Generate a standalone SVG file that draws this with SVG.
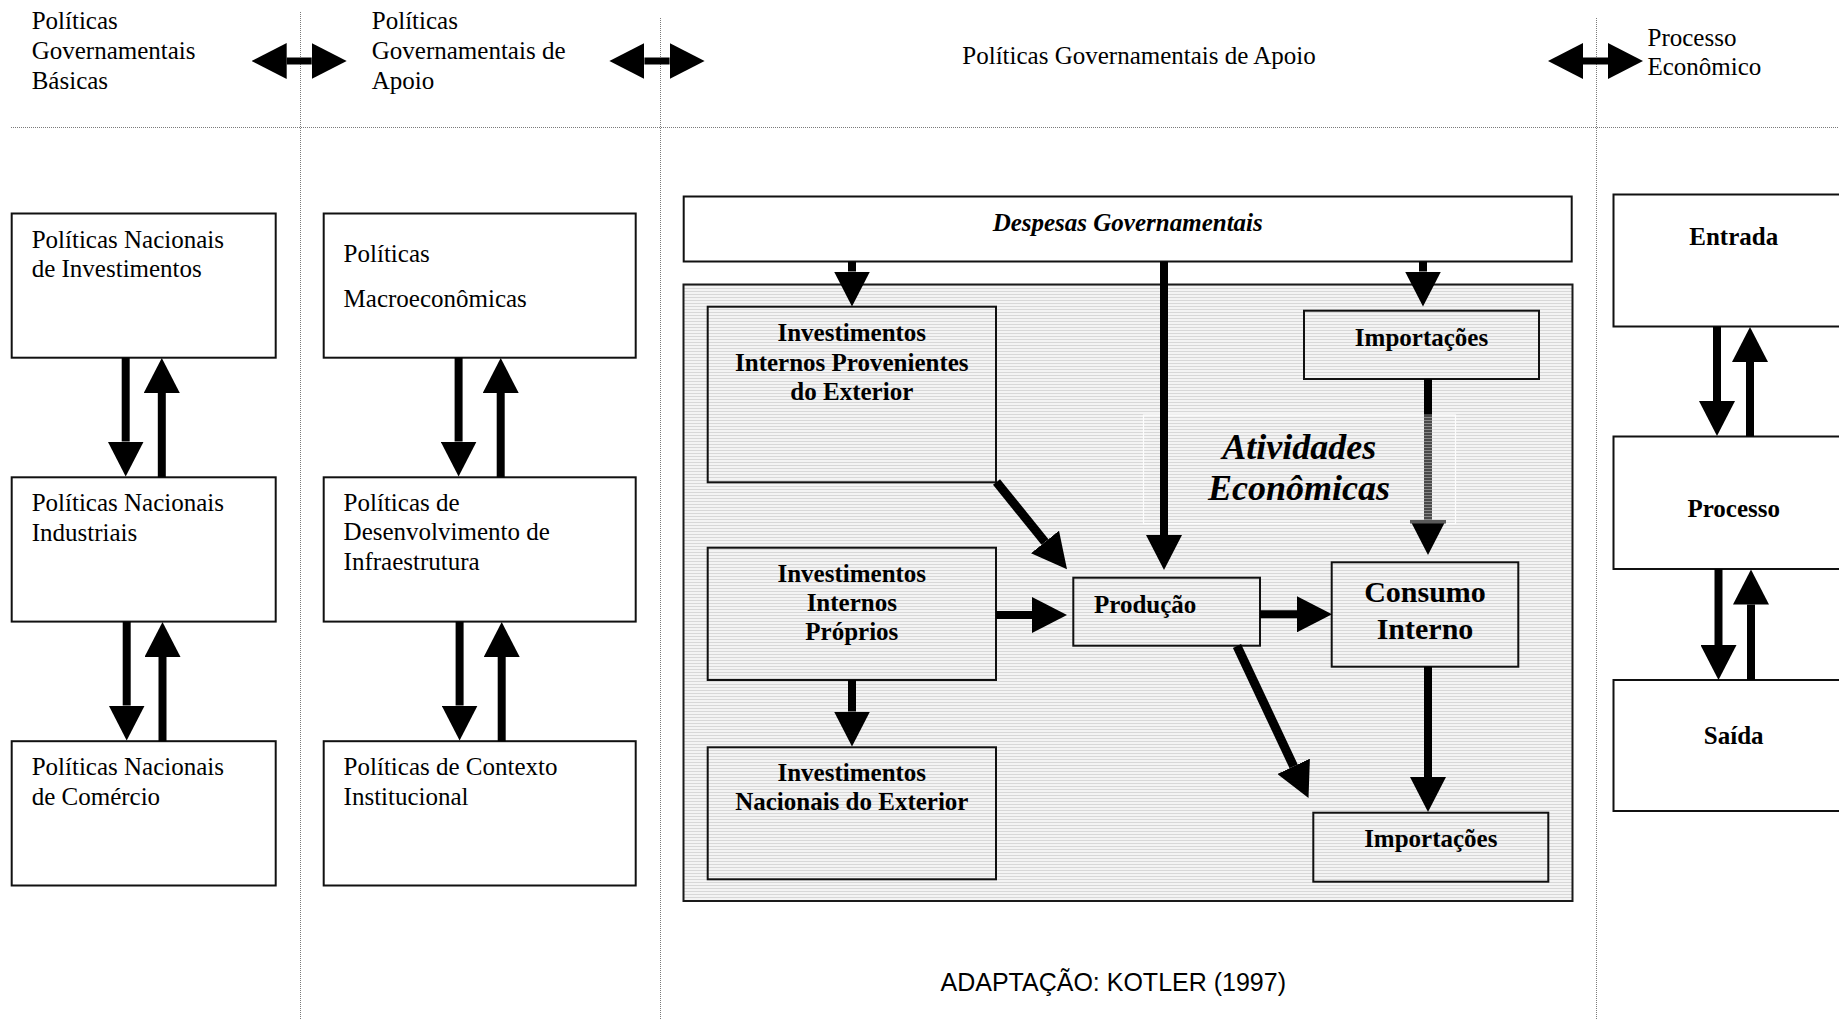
<svg xmlns="http://www.w3.org/2000/svg" width="1839" height="1019" viewBox="0 0 1839 1019">
  <style>
    .serif { font-family: "Liberation Serif", "Times New Roman", serif; font-size: 25px; fill: #000; }
    .bold { font-weight: bold; }
    .it { font-style: italic; }
    .mid { text-anchor: middle; }
    .box { fill: #fff; stroke: #111; stroke-width: 2; }
    .inner { fill: none; stroke: #111; stroke-width: 2; }
    .guide { stroke: #7a7a7a; stroke-width: 1; stroke-dasharray: 1 1; fill: none; }
    .shaft { stroke: #000; stroke-width: 8; fill: none; }
    .thin { stroke-width: 7; }
    .diag { stroke-width: 9; }
    .src { font-family: "Liberation Sans", Arial, sans-serif; font-size: 25px; fill: #000; }
  </style>
  <defs>
    <marker id="head" viewBox="0 0 35 36" refX="0" refY="18" markerUnits="userSpaceOnUse" markerWidth="35" markerHeight="36" orient="auto-start-reverse">
      <path d="M0,0 L35,18 L0,36 Z" fill="#000"/>
    </marker>
    <pattern id="hatch" width="4" height="3" patternUnits="userSpaceOnUse">
      <rect width="4" height="3" fill="#f4f4f4"/>
      <rect width="4" height="1" fill="#d8d8d8"/>
    </pattern>
    <pattern id="veil" width="4" height="3" patternUnits="userSpaceOnUse">
      <rect width="4" height="3" fill="#4a4a4a"/>
      <rect width="4" height="1" fill="#8a8a8a"/>
    </pattern>
  </defs>

  <rect width="1839" height="1019" fill="#fff"/>

  <!-- column guides -->
  <g id="guides">
    <line class="guide" x1="11" y1="127.5" x2="1839" y2="127.5"/>
    <line class="guide" x1="300.5" y1="12" x2="300.5" y2="1019"/>
    <line class="guide" x1="660.5" y1="18" x2="660.5" y2="1019"/>
    <line class="guide" x1="1596.5" y1="18" x2="1596.5" y2="1019"/>
  </g>

  <!-- header titles -->
  <g id="header">
    <text class="serif" x="31.7" y="29.3">Políticas</text>
    <text class="serif" x="31.7" y="58.8">Governamentais</text>
    <text class="serif" x="31.7" y="89">Básicas</text>
    <text class="serif" x="371.8" y="29.3">Políticas</text>
    <text class="serif" x="371.8" y="58.8">Governamentais de</text>
    <text class="serif" x="371.8" y="89">Apoio</text>
    <text class="serif mid" x="1139" y="63.5">Políticas Governamentais de Apoio</text>
    <text class="serif" x="1647.5" y="45.5">Processo</text>
    <text class="serif" x="1647.5" y="75">Econômico</text>
  </g>

  <!-- column 1: basic policies -->
  <g id="n-investimentos">
    <rect class="box" x="11.7" y="213.5" width="264" height="144.2"/>
    <text class="serif" x="31.7" y="247.5">Políticas Nacionais</text>
    <text class="serif" x="31.7" y="277">de Investimentos</text>
  </g>
  <g id="n-industriais">
    <rect class="box" x="11.7" y="477.3" width="264" height="144.3"/>
    <text class="serif" x="31.7" y="511.3">Políticas Nacionais</text>
    <text class="serif" x="31.7" y="541">Industriais</text>
  </g>
  <g id="n-comercio">
    <rect class="box" x="11.7" y="741.2" width="264" height="144.3"/>
    <text class="serif" x="31.7" y="775.2">Políticas Nacionais</text>
    <text class="serif" x="31.7" y="805">de Comércio</text>
  </g>

  <!-- column 2: support policies -->
  <g id="n-macro">
    <rect class="box" x="323.7" y="213.5" width="312" height="144.2"/>
    <text class="serif" x="343.6" y="262">Políticas</text>
    <text class="serif" x="343.6" y="306.5">Macroeconômicas</text>
  </g>
  <g id="n-infra">
    <rect class="box" x="323.7" y="477.3" width="312" height="144.3"/>
    <text class="serif" x="343.6" y="511">Políticas de</text>
    <text class="serif" x="343.6" y="540.3">Desenvolvimento de</text>
    <text class="serif" x="343.6" y="569.8">Infraestrutura</text>
  </g>
  <g id="n-institucional">
    <rect class="box" x="323.7" y="741.2" width="312" height="144.3"/>
    <text class="serif" x="343.6" y="775.2">Políticas de Contexto</text>
    <text class="serif" x="343.6" y="805">Institucional</text>
  </g>

  <!-- column 3: government spending and economic activities -->
  <g id="n-despesas">
    <rect class="box" x="683.7" y="196.5" width="888" height="65"/>
    <text class="serif bold it mid" x="1127.7" y="231">Despesas Governamentais</text>
  </g>
  <g id="n-atividades">
    <rect x="683.5" y="284.5" width="889" height="616.5" fill="url(#hatch)" stroke="#1a1a1a" stroke-width="2"/>
    <rect x="1143.5" y="415" width="312" height="108.5" fill="none" stroke="#fdfdfd" stroke-width="1.2"/>
  </g>
  <g id="n-provenientes">
    <rect class="inner" x="707.7" y="306.7" width="288.3" height="175.6"/>
    <text class="serif bold mid" x="851.8" y="341.3">Investimentos</text>
    <text class="serif bold mid" x="851.8" y="370.6">Internos Provenientes</text>
    <text class="serif bold mid" x="851.8" y="400">do Exterior</text>
  </g>
  <g id="n-proprios">
    <rect class="inner" x="707.7" y="547.7" width="288.3" height="132.3"/>
    <text class="serif bold mid" x="851.8" y="581.7">Investimentos</text>
    <text class="serif bold mid" x="851.8" y="611">Internos</text>
    <text class="serif bold mid" x="851.8" y="640.3">Próprios</text>
  </g>
  <g id="n-nacionais">
    <rect class="inner" x="707.7" y="747.3" width="288.3" height="132"/>
    <text class="serif bold mid" x="851.8" y="781">Investimentos</text>
    <text class="serif bold mid" x="851.8" y="810.4">Nacionais do Exterior</text>
  </g>
  <g id="n-producao">
    <rect class="inner" x="1073.3" y="577.7" width="186.7" height="68"/>
    <text class="serif bold" x="1094" y="613.4">Produção</text>
  </g>
  <g id="n-importacoes-1">
    <rect class="inner" x="1304" y="310.7" width="235" height="68.3"/>
    <text class="serif bold mid" x="1421.5" y="346">Importações</text>
  </g>
  <g id="n-consumo">
    <rect class="inner" x="1331.7" y="562.3" width="186.6" height="104.4"/>
    <text class="serif bold mid" x="1425" y="602.2" style="font-size:30px">Consumo</text>
    <text class="serif bold mid" x="1425" y="638.6" style="font-size:30px">Interno</text>
  </g>
  <g id="n-importacoes-2">
    <rect class="inner" x="1313.3" y="812.7" width="235" height="69"/>
    <text class="serif bold mid" x="1430.8" y="847">Importações</text>
  </g>

  <!-- column 4: economic process -->
  <g id="n-entrada">
    <rect class="box" x="1613.5" y="194.5" width="240" height="132"/>
    <text class="serif bold mid" x="1733.7" y="245">Entrada</text>
  </g>
  <g id="n-processo">
    <rect class="box" x="1613.5" y="436.5" width="240" height="132.5"/>
    <text class="serif bold mid" x="1733.7" y="517">Processo</text>
  </g>
  <g id="n-saida">
    <rect class="box" x="1613.5" y="680" width="240" height="131"/>
    <text class="serif bold mid" x="1733.7" y="743.5">Saída</text>
  </g>

  <!-- connectors -->
  <g id="connectors">
    <!-- header double arrows -->
    <line class="shaft thin" x1="286.7" y1="61" x2="311.7" y2="61" marker-start="url(#head)" marker-end="url(#head)"/>
    <line class="shaft thin" x1="644.4" y1="61" x2="669.6" y2="61" marker-start="url(#head)" marker-end="url(#head)"/>
    <line class="shaft thin" x1="1583" y1="61" x2="1608" y2="61" marker-start="url(#head)" marker-end="url(#head)"/>

    <!-- column 1 -->
    <line class="shaft" x1="125.7" y1="357.7" x2="125.7" y2="441.5" marker-end="url(#head)"/>
    <line class="shaft" x1="161.8" y1="477.3" x2="161.8" y2="393" marker-end="url(#head)"/>
    <line class="shaft" x1="126.7" y1="621.6" x2="126.7" y2="705.5" marker-end="url(#head)"/>
    <line class="shaft" x1="162.5" y1="741.2" x2="162.5" y2="657" marker-end="url(#head)"/>

    <!-- column 2 -->
    <line class="shaft" x1="458.6" y1="357.7" x2="458.6" y2="441.5" marker-end="url(#head)"/>
    <line class="shaft" x1="500.7" y1="477.3" x2="500.7" y2="393" marker-end="url(#head)"/>
    <line class="shaft" x1="459.6" y1="621.6" x2="459.6" y2="705.5" marker-end="url(#head)"/>
    <line class="shaft" x1="501.7" y1="741.2" x2="501.7" y2="657" marker-end="url(#head)"/>

    <!-- column 4 -->
    <line class="shaft" x1="1717" y1="326.5" x2="1717" y2="401" marker-end="url(#head)"/>
    <line class="shaft" x1="1750" y1="436.5" x2="1750" y2="362" marker-end="url(#head)"/>
    <line class="shaft" x1="1718.5" y1="569" x2="1718.5" y2="645" marker-end="url(#head)"/>
    <line class="shaft" x1="1751" y1="680" x2="1751" y2="604.5" marker-end="url(#head)"/>

    <!-- government spending flows -->
    <line class="shaft" x1="852" y1="261.5" x2="852" y2="271.5" marker-end="url(#head)"/>
    <line class="shaft" x1="1164" y1="261.5" x2="1164" y2="535" marker-end="url(#head)"/>
    <line class="shaft" x1="1423" y1="261.5" x2="1423" y2="271.5" marker-end="url(#head)"/>

    <!-- economic activities -->
    <line class="shaft diag" x1="996.5" y1="482" x2="1045" y2="542" marker-end="url(#head)"/>
    <line class="shaft" x1="996" y1="615" x2="1032" y2="615" marker-end="url(#head)"/>
    <line class="shaft" x1="852" y1="680" x2="852" y2="711.5" marker-end="url(#head)"/>
    <line class="shaft" x1="1260" y1="614.3" x2="1297" y2="614.3" marker-end="url(#head)"/>
    <line class="shaft diag" x1="1237" y1="646" x2="1293.6" y2="766.3" marker-end="url(#head)"/>
    <line class="shaft" x1="1428" y1="379" x2="1428" y2="520" marker-end="url(#head)"/>
    <line class="shaft" x1="1428" y1="666.7" x2="1428" y2="777" marker-end="url(#head)"/>

    <!-- part of the import arrow seen through the caption frame -->
    <rect x="1424" y="414.5" width="8" height="105.5" fill="url(#veil)"/>
    <rect x="1410" y="520" width="36" height="3.5" fill="#5a5a5a"/>
  </g>

  <g id="caption">
    <text class="serif bold it mid" x="1299.3" y="458.6" style="font-size:36px">Atividades</text>
    <text class="serif bold it mid" x="1299" y="499.6" style="font-size:36px">Econômicas</text>
  </g>

  <text class="src" x="940.5" y="991">ADAPTAÇÃO: KOTLER (1997)</text>
</svg>
